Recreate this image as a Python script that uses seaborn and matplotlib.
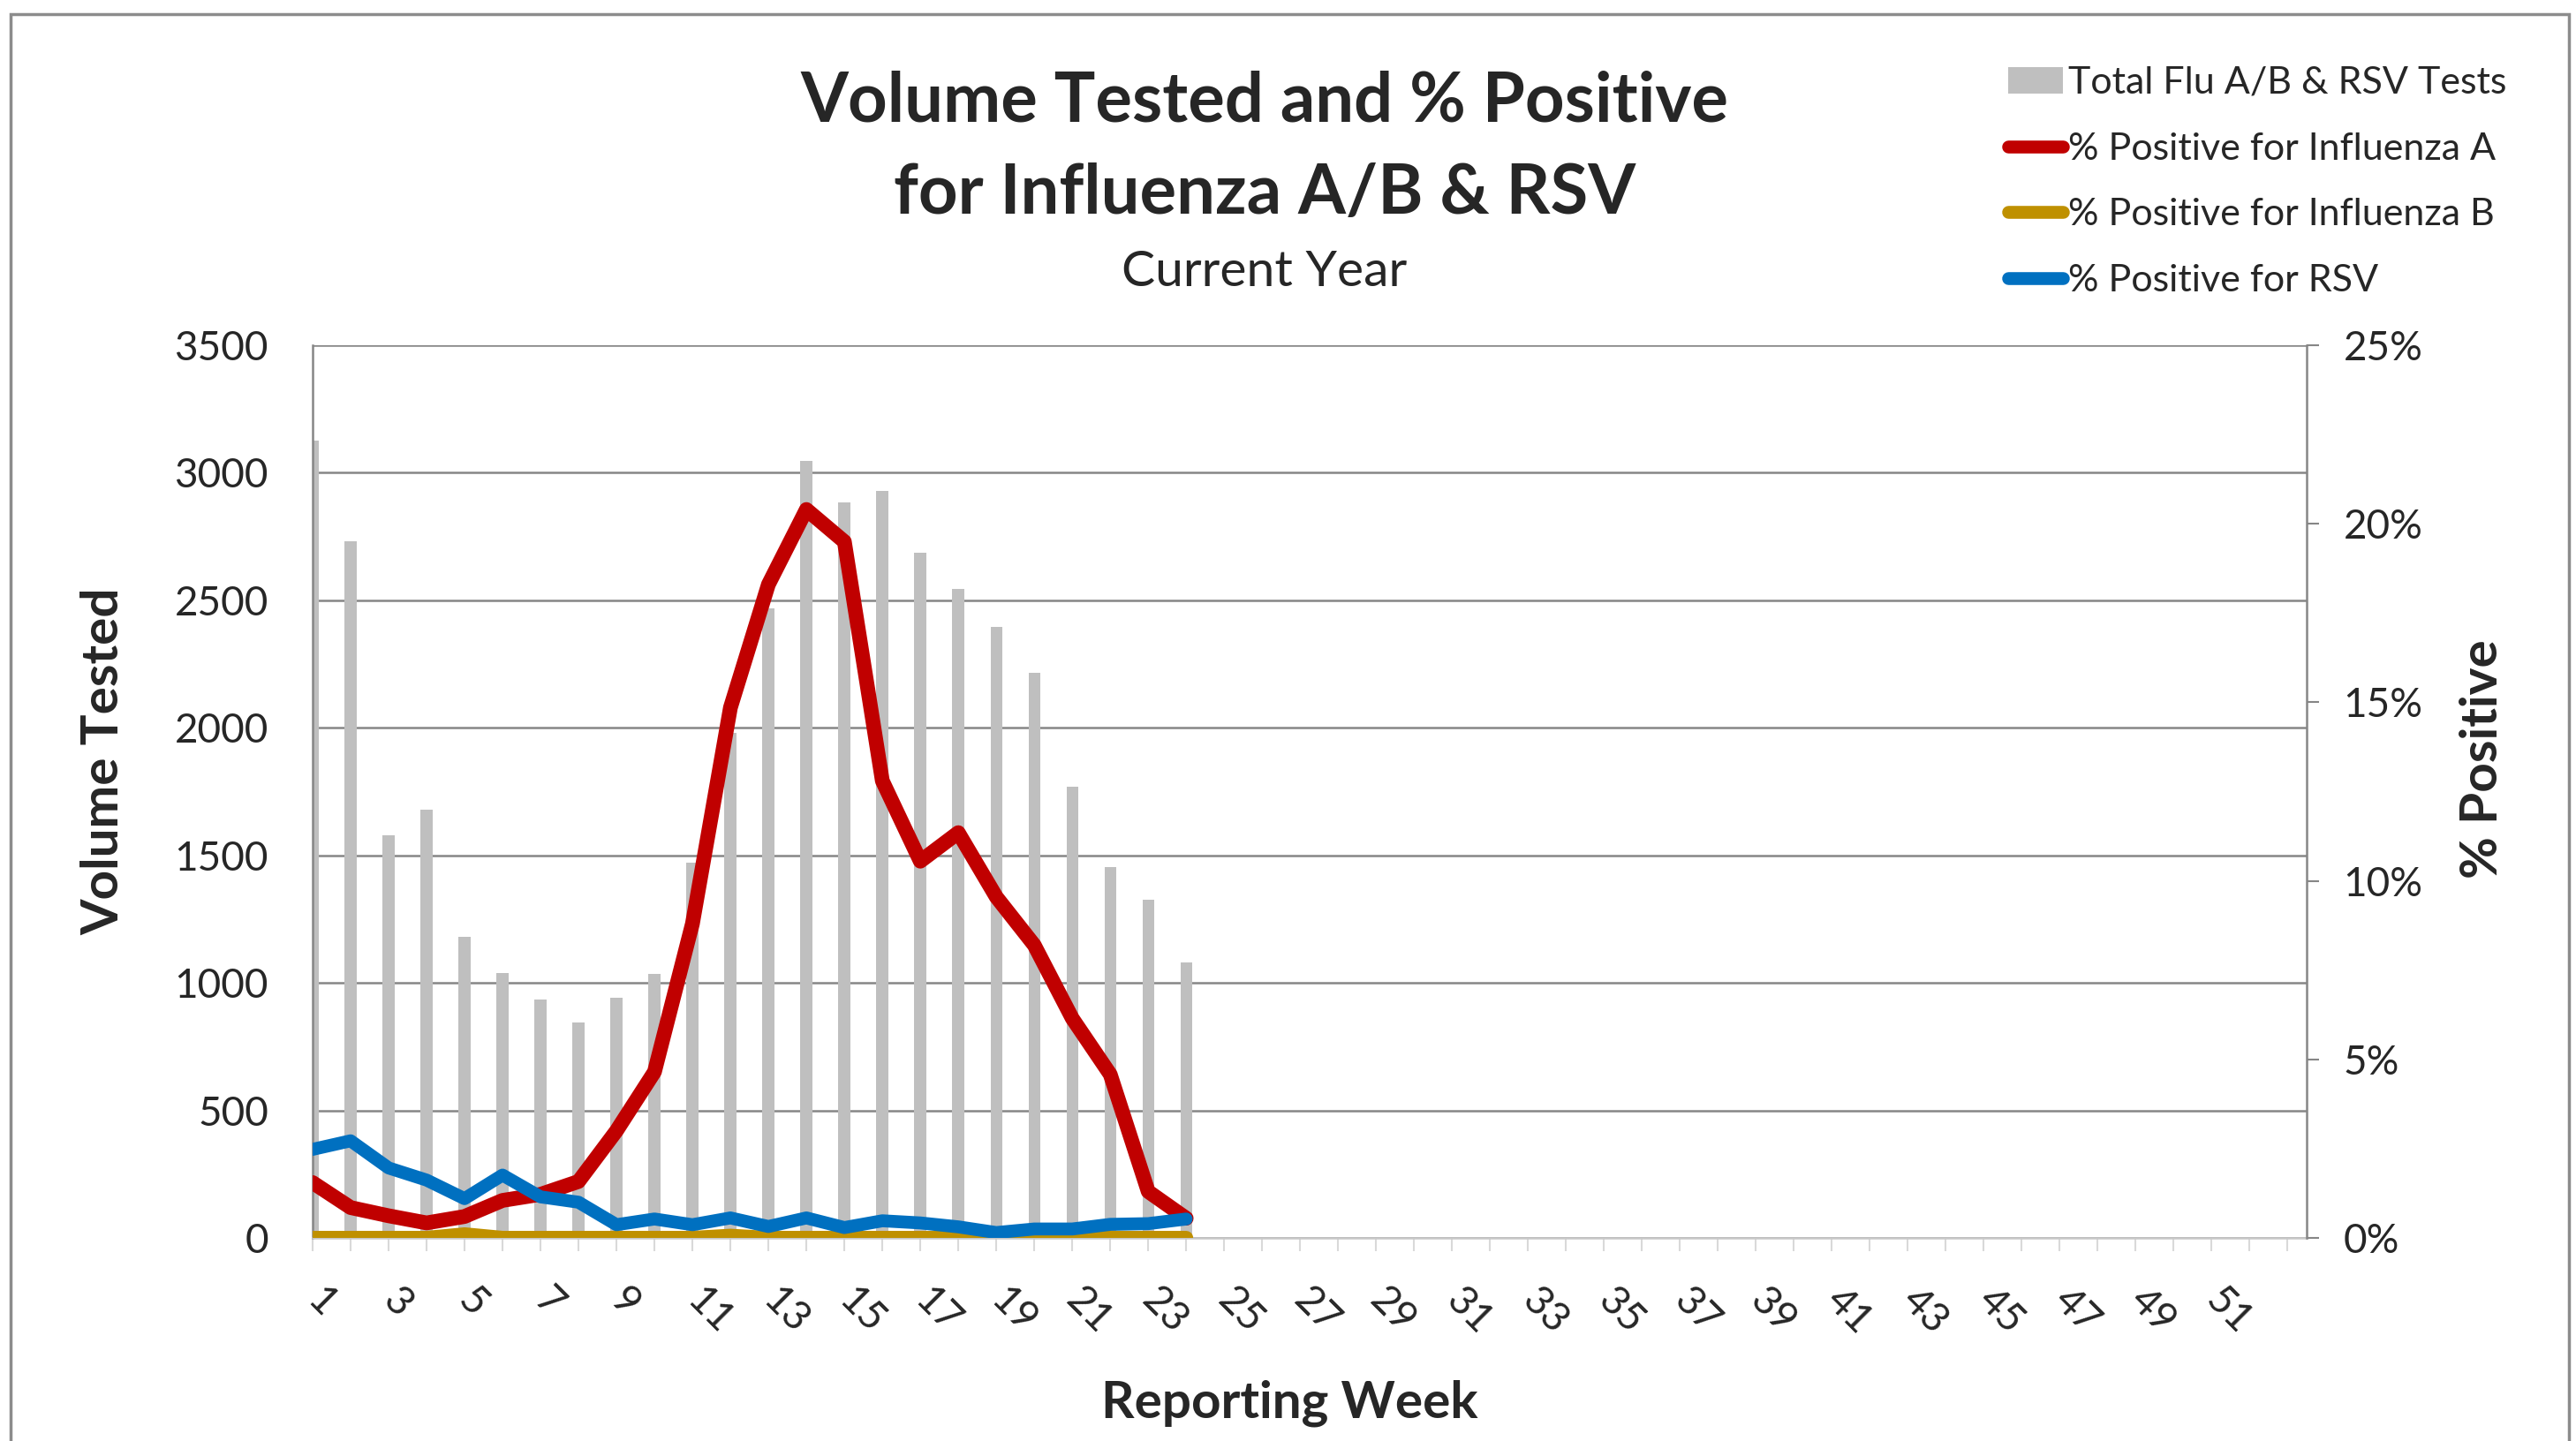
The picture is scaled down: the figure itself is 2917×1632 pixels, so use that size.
import numpy as np
import pandas as pd
import seaborn as sns
import matplotlib
matplotlib.use("Agg")
import matplotlib.pyplot as plt
from matplotlib.lines import Line2D
from matplotlib.patches import Patch, Rectangle
from matplotlib.ticker import FuncFormatter

# ---------------- data ----------------
weeks = list(range(1, 25))
total_tests = [3125, 2730, 1580, 1680, 1180, 1040, 935, 845, 940, 1035, 1470, 1980,
               2470, 3045, 2885, 2930, 2685, 2545, 2395, 2215, 1770, 1455, 1325, 1080]
pct_flu_a = [1.55, 0.85, 0.62, 0.42, 0.60, 1.05, 1.22, 1.58, 3.00, 4.65, 8.80, 14.85,
             18.30, 20.40, 19.50, 12.80, 10.55, 11.35, 9.55, 8.20, 6.15, 4.58, 1.30, 0.55]
pct_flu_b = [0.0, 0.0, 0.0, 0.0, 0.10, 0.0, 0.0, 0.0, 0.0, 0.0, 0.0, 0.06,
             0.0, 0.0, 0.0, 0.0, 0.0, 0.0, 0.0, 0.0, 0.0, 0.0, 0.0, 0.0]
pct_rsv = [2.48, 2.72, 1.96, 1.62, 1.10, 1.76, 1.15, 1.00, 0.37, 0.53, 0.37, 0.56,
           0.32, 0.56, 0.29, 0.48, 0.42, 0.31, 0.15, 0.25, 0.25, 0.38, 0.40, 0.53]

all_weeks = list(range(1, 54))
week_labels = [str(w) if (w % 2 == 1 and w <= 51) else "" for w in all_weeks]
left_ticks = [0, 500, 1000, 1500, 2000, 2500, 3000, 3500]
right_ticks = [0, 5, 10, 15, 20, 25]

title_line1 = "Volume Tested and % Positive"
title_line2 = "for Influenza A/B & RSV"
title_sub = "Current Year"
legend_labels = ["Total Flu A/B & RSV Tests", "% Positive for Influenza A",
                 "% Positive for Influenza B", "% Positive for RSV"]

# ---------------- styling ----------------
sns.set_theme(style="white")
plt.rcParams["font.family"] = ["Lato", "DejaVu Sans"]

BAR = "#BFBFBF"
RED = "#C00000"
GOLD = "#BF9000"
BLUE = "#0070C0"
GRID = "#868686"

W, H = 2917, 1632
DPI = 100
fig = plt.figure(figsize=(W / DPI, H / DPI), dpi=DPI)
fig.patch.set_facecolor("white")

L, R, T, B = 354, 2612, 391, 1402
ax = fig.add_axes([L / W, 1 - B / H, (R - L) / W, (B - T) / H])
ax2 = ax.twinx()

df = pd.DataFrame({"week": weeks, "tests": total_tests,
                   "a": pct_flu_a, "b": pct_flu_b, "rsv": pct_rsv})

sns.barplot(data=df, x="week", y="tests", native_scale=True, width=0.31,
            color=BAR, saturation=1, errorbar=None, ax=ax, linewidth=0)

sns.lineplot(data=df, x="week", y="a", ax=ax2, color=RED, linewidth=12,
             solid_capstyle="round", solid_joinstyle="round")
sns.lineplot(data=df, x="week", y="b", ax=ax2, color=GOLD, linewidth=11.5,
             solid_capstyle="round", solid_joinstyle="round")
sns.lineplot(data=df, x="week", y="rsv", ax=ax2, color=BLUE, linewidth=10.5,
             solid_capstyle="round", solid_joinstyle="round")

# axes limits / ticks
ax.set_xlim(1, 53.5)
ax.set_ylim(0, 3500)
ax2.set_ylim(0, 25)
ax.set_xticks(all_weeks)
ax.set_xticklabels(week_labels, rotation=-45, rotation_mode="anchor",
                   ha="left", va="center", fontsize=33)
ax.set_yticks(left_ticks)
ax.set_yticklabels([str(v) for v in left_ticks], fontsize=33)
ax2.set_yticks(right_ticks)
ax2.yaxis.set_major_formatter(FuncFormatter(lambda v, p: f"{v:.0f}%"))
ax2.tick_params(axis="y", labelsize=33)

ax.grid(axis="y", color=GRID, linewidth=1.8)
ax.grid(axis="x", visible=False)
ax2.grid(False)
ax.set_axisbelow(True)

ax.tick_params(axis="x", direction="out", length=11, width=1.5, color="#D9D9D9",
               pad=35, bottom=True)
ax.tick_params(axis="y", length=0, pad=36)
ax2.tick_params(axis="y", direction="out", length=10, width=1.5, color=GRID,
                pad=20, right=True)

for s in ["top", "right", "left", "bottom"]:
    ax.spines[s].set_visible(False)
ax.spines["left"].set_visible(True)
ax.spines["left"].set_color(GRID)
ax.spines["left"].set_linewidth(1.8)
ax.spines["bottom"].set_visible(True)
ax.spines["bottom"].set_color("#C8C8C8")
ax.spines["bottom"].set_linewidth(1.8)
for s in ["top", "left", "bottom"]:
    ax2.spines[s].set_visible(False)
ax2.spines["right"].set_visible(True)
ax2.spines["right"].set_color(GRID)
ax2.spines["right"].set_linewidth(1.8)

# axis labels
ax.set_xlabel("Reporting Week", fontsize=42, fontweight="bold")
ax.xaxis.set_label_coords((1460 - L) / (R - L), (B - 1589) / (B - T))
ax.xaxis.label.set_va("center")
ax.set_ylabel("Volume Tested", fontsize=42, fontweight="bold")
ax.yaxis.set_label_coords((118 - L) / (R - L), (B - 862) / (B - T))
ax.yaxis.label.set_va("center")
ax2.set_ylabel("% Positive", fontsize=42, fontweight="bold", rotation=90)
ax2.yaxis.set_label_coords((2812 - L) / (R - L), (B - 860) / (B - T))
ax2.yaxis.label.set_va("center")

# titles
fig.text(1432 / W, 1 - 116 / H, title_line1, ha="center", va="center",
         fontsize=56, fontweight="bold")
fig.text(1432 / W, 1 - 220 / H, title_line2, ha="center", va="center",
         fontsize=56, fontweight="bold")
fig.text(1432 / W, 1 - 308 / H, title_sub, ha="center", va="center", fontsize=41)

# legend
handles = [Patch(facecolor=BAR, edgecolor="none"),
           Line2D([0], [0], color=RED, linewidth=10.5, solid_capstyle="round"),
           Line2D([0], [0], color=GOLD, linewidth=10.5, solid_capstyle="round"),
           Line2D([0], [0], color=BLUE, linewidth=10.5, solid_capstyle="round")]
fig.legend(handles, legend_labels, loc="upper left",
           bbox_to_anchor=(2274 / W, 1 - 75 / H), frameon=False, fontsize=31,
           handlelength=1.45, handletextpad=0.12, labelspacing=0.85,
           borderpad=0, borderaxespad=0)

# outer chart border
fig.patches.append(Rectangle((12 / W, -0.05), (2909 - 12) / W, 1.05 - 16 / H,
                             transform=fig.transFigure, fill=False,
                             edgecolor="#8C8C8C", linewidth=2.5))

fig.savefig("out.png", dpi=DPI, facecolor="white")
